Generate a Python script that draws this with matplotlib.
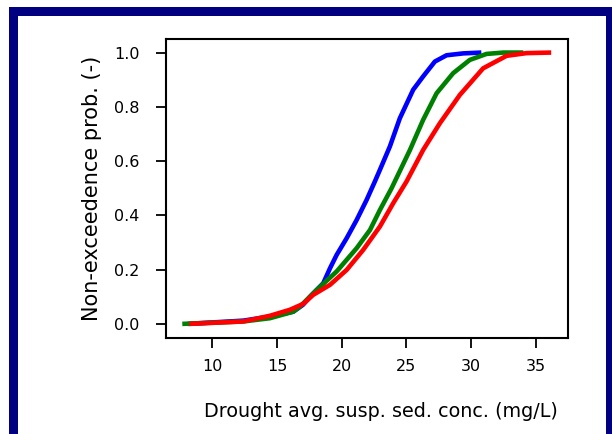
import matplotlib
matplotlib.use("Agg")
import matplotlib.pyplot as plt
from matplotlib.patches import Rectangle

# ==========================================
# DATA
# ==========================================

blue_x = [8.1, 12.4, 14.46, 16.26, 17.0, 17.55, 18.58, 19.1, 19.61, 20.39,
          21.16, 21.93, 22.57, 22.96, 23.73, 24.5, 25.53, 26.3, 27.21, 28.11,
          29.4, 30.8]
blue_y = [0.0, 0.012, 0.027, 0.045, 0.07, 0.10, 0.15, 0.205, 0.254, 0.316,
          0.383, 0.457, 0.525, 0.568, 0.654, 0.758, 0.863, 0.912, 0.967, 0.99,
          0.997, 1.0]

green_x = [7.68, 12.4, 14.46, 16.26, 16.78, 18.07, 19.61, 21.16, 22.19, 22.96,
           23.86, 25.28, 26.3, 27.34, 28.62, 29.91, 31.2, 32.5, 34.05]
green_y = [0.0, 0.009, 0.021, 0.045, 0.064, 0.125, 0.193, 0.279, 0.346, 0.42,
           0.5, 0.641, 0.752, 0.85, 0.924, 0.973, 0.995, 1.0, 1.0]

red_x = [8.22, 12.4, 14.46, 16.0, 17.04, 17.8, 19.1, 20.39, 21.67, 22.96,
         23.99, 25.02, 26.3, 27.6, 29.14, 30.94, 32.75, 34.3, 36.2]
red_y = [0.0, 0.009, 0.03, 0.052, 0.074, 0.107, 0.144, 0.199, 0.273, 0.359,
         0.445, 0.525, 0.641, 0.74, 0.844, 0.942, 0.988, 0.998, 1.0]

x_ticks = [10, 15, 20, 25, 30, 35]
y_ticks = [0.0, 0.2, 0.4, 0.6, 0.8, 1.0]

# ==========================================
# FIGURE
# ==========================================

W, H = 612, 434
fig = plt.figure(figsize=(W / 100, H / 100), dpi=100)

# navy frame around the picture
navy = "#000080"
for (x0, y0, x1, y1) in [(9, 7, 18, 434), (9, 7, 612, 16), (606, 7, 612, 434)]:
    fig.patches.append(Rectangle(
        (x0 / W, 1 - y1 / H), (x1 - x0) / W, (y1 - y0) / H,
        transform=fig.transFigure, facecolor=navy, edgecolor="none"
    ))

ax = fig.add_axes([166 / W, 1 - 338 / H, (568 - 166) / W, (338 - 39) / H])

line_kw = dict(linewidth=3.3, solid_joinstyle="round", solid_capstyle="butt")
ax.plot(blue_x, blue_y, color="#0000ff", **line_kw)
ax.plot(green_x, green_y, color="#008000", **line_kw)
ax.plot(red_x, red_y, color="#ff0000", **line_kw)

ax.set_xlim(6.42, 37.5)
ax.set_ylim(-0.052, 1.05)

ax.set_xticks(x_ticks)
ax.set_yticks(y_ticks)
ax.set_yticklabels([f"{v:.1f}" for v in y_ticks])

for s in ax.spines.values():
    s.set_linewidth(1.5)

ax.tick_params(axis="both", length=7, width=1.3, labelsize=11.5)
ax.tick_params(axis="x", pad=8)
ax.tick_params(axis="y", pad=12)

ax.set_xlabel("Drought avg. susp. sed. conc. (mg/L)", fontsize=13.8)
ax.set_ylabel("Non-exceedence prob. (-)", fontsize=15)
ax.xaxis.set_label_coords(0.535, -0.215)
ax.yaxis.set_label_coords(-0.16, 0.5)

fig.savefig("out.png", dpi=100)
